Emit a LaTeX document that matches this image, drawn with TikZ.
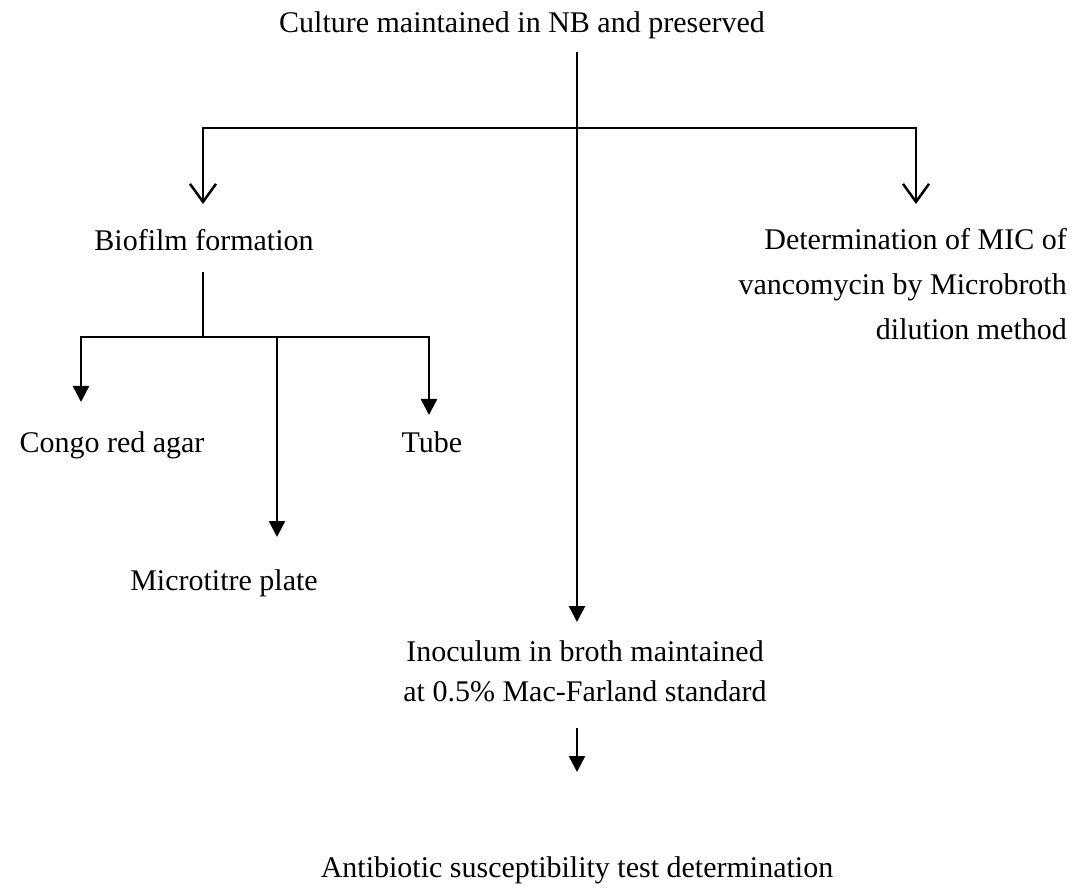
\documentclass[tikz,border=0pt]{standalone}
\usepackage{fontspec}
\setmainfont{Liberation Serif}
\usetikzlibrary{arrows.meta}
\begin{document}
\begin{tikzpicture}[x=1pt,y=-1pt,
  txt/.style={inner sep=0pt,font=\fontsize{30}{44}\selectfont,anchor=base},
  ln/.style={line width=2.5pt},
  openarr/.style={ln,-{Straight Barb[length=18pt,width=26pt,line width=2.5pt]}},
  filarr/.style={ln,-{Triangle[length=16pt,width=16pt]}}]
\useasboundingbox (0,0) rectangle (1085,893);
\node[txt] (culture) at (522,33) {Culture maintained in NB and preserved};
\node[txt] (biofilm) at (204,251) {Biofilm formation};
\node[txt,align=right,anchor=base east,font=\fontsize{30}{45}\selectfont] (mic) at (1067,340) {Determination of MIC of\\vancomycin by Microbroth\\dilution method};
\node[txt] (congo) at (112,453) {Congo red agar};
\node[txt] (tube) at (432,453) {Tube};
\node[txt] (micro) at (224,590) {Microtitre plate};
\node[txt,align=center,font=\fontsize{30}{40}\selectfont] (inoc) at (585,701) {Inoculum in broth maintained\\at 0.5\% Mac-Farland standard};
\node[txt] (anti) at (577,877) {Antibiotic susceptibility test determination};
\coordinate (top) at (577,52);
\coordinate (bl) at (203,272);
% main trunk
\draw[filarr] (top) -- (577,622);
\draw[openarr] (203,202) -- (203,128) -- (916,128) -- (916,204);
\draw[openarr] (203,128) -- (203,204);
% biofilm branches
\draw[ln] (bl) -- (203,337);
\draw[filarr] (203,337) -- (81,337) -- (81,402);
\draw[filarr] (203,337) -- (429,337) -- (429,415);
\draw[filarr] (277,337) -- (277,537);
% inoculum to antibiotic
\draw[filarr] (577,728) -- (577,772);
\end{tikzpicture}
\end{document}
